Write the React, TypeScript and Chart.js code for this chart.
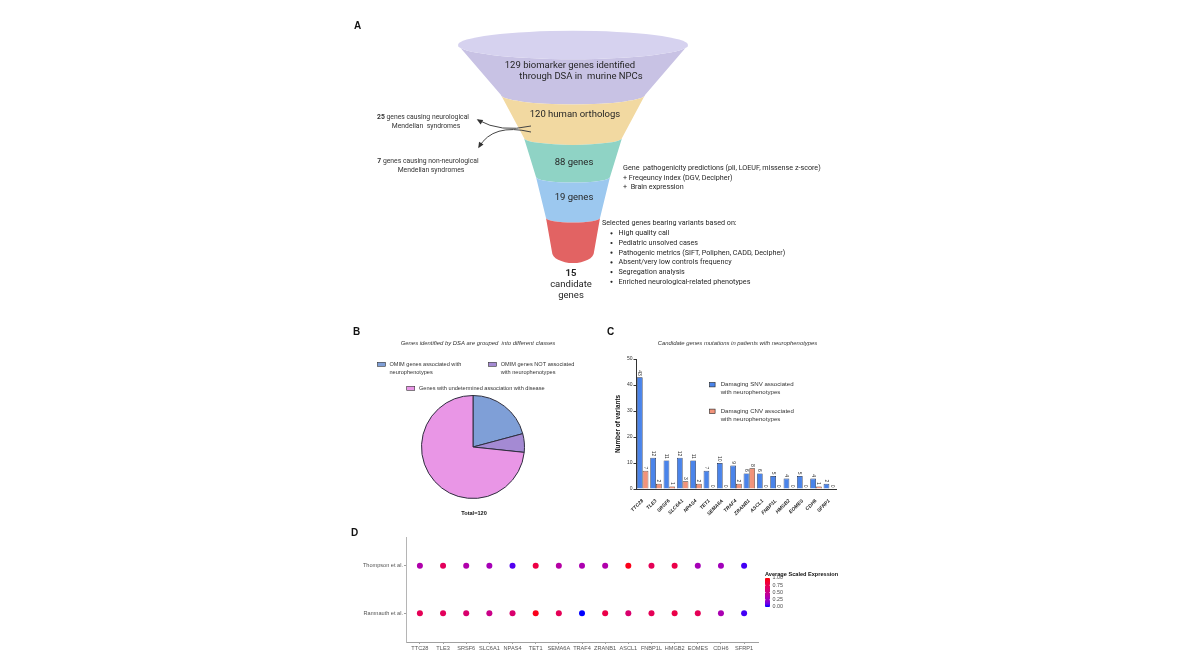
import React, { useEffect, useRef } from "react";
import { Chart, registerables } from "chart.js";
Chart.register(...registerables);

const SANS = '"Liberation Sans", Arial, sans-serif';
const ROBOTO = 'Roboto, "Noto Sans", sans-serif';

// ---------- Panel A : funnel ----------
const funnelLabels = [
  ["129 biomarker genes identified", "through DSA in  murine NPCs"],
  ["120 human orthologs"],
  ["88 genes"],
  ["19 genes"],
  ["15", "candidate", "genes"],
];
const funnelCounts = [129, 120, 88, 19, 15];
const funnelColors = ["#c8c2e4", "#f2d9a1", "#8fd3c5", "#9cc8ef", "#e26363"];
const funnelTopColor = "#d6d2ef";
// funnel outline: half widths and depths of the band boundaries (shape of the diagram)
const funnelWidthProfile = [115, 72, 49, 37, 27, 21];
const funnelDepthProfile = [35, 85, 128, 167, 208, 242];
const excludedCounts = [25, 7];
const excludedLabels = [
  [" genes causing neurological", "Mendelian  syndromes"],
  [" genes causing non-neurological", "Mendelian syndromes"],
];
const filterStep1 = [
  "Gene  pathogenicity predictions (pli, LOEUF, missense z-score)",
  "+ Freqeuncy index (DGV, Decipher)",
  "+  Brain expression",
];
const filterStep2Title = "Selected genes bearing variants based on:";
const filterStep2Items = [
  "High quality call",
  "Pediatric unsolved cases",
  "Pathogenic metrics (SIFT, Poliphen, CADD, Decipher)",
  "Absent/very low controls frequency",
  "Segregation analysis",
  "Enriched neurological-related phenotypes",
];

// ---------- Panel B : pie ----------
const pieLabels = [
  "OMIM genes associated with neurophenotypes",
  "OMIM genes NOT associated with neurophenotypes",
  "Genes with undetermined association with disease",
];
const pieLegendLines = [
  ["OMIM genes associated with", "neurophenotypes"],
  ["OMIM genes NOT associated", "with neurophenotypes"],
  ["Genes with undetermined association with disease"],
];
const pieValues = [25, 7, 88];
const pieColors = ["#7f9fd7", "#a48ad3", "#e996e6"];
const pieTitle = "Genes identified by DSA are grouped  into different classes";

// ---------- Panel C : bars ----------
const genes = ["TTC28", "TLE3", "SRSF6", "SLC6A1", "NPAS4", "TET1", "SEMA6A", "TRAF4", "ZRANB1", "ASCL1", "FNBP1L", "HMGB2", "EOMES", "CDH6", "SFRP1"];
const snvCounts = [43, 12, 11, 12, 11, 7, 10, 9, 6, 6, 5, 4, 5, 4, 2];
const cnvCounts = [7, 2, 1, 3, 2, 0, 0, 2, 8, 0, 0, 0, 0, 1, 0];
const barSeriesLabels = [
  ["Damaging SNV associated", "with neurophenotypes"],
  ["Damaging CNV associated", "with neurophenotypes"],
];
const barColors = ["#4a84ea", "#f2937a"];
const barTitle = "Candidate genes mutations in patients with neurophenotypes";
const yTicksC = [0, 10, 20, 30, 40, 50];

// ---------- Panel D : dot plot ----------
const studies = ["Ramnauth et al.", "Thompson et al."];
const ramnauthExpr = [0.72, 0.7, 0.62, 0.5, 0.62, 0.95, 0.72, 0.0, 0.78, 0.62, 0.72, 0.78, 0.72, 0.32, 0.04];
const thompsonExpr = [0.35, 0.7, 0.35, 0.3, 0.06, 0.8, 0.38, 0.33, 0.35, 0.95, 0.72, 0.78, 0.3, 0.28, 0.04];
const exprTicks = [1.0, 0.75, 0.5, 0.25, 0.0];

// ---------- colour helpers (Lab interpolation, blue -> red) ----------
function toLin(c: number) { c /= 255; return c <= 0.04045 ? c / 12.92 : Math.pow((c + 0.055) / 1.055, 2.4); }
function fromLin(c: number) { const v = c <= 0.0031308 ? 12.92 * c : 1.055 * Math.pow(c, 1 / 2.4) - 0.055; return Math.round(Math.max(0, Math.min(1, v)) * 255); }
const WX = 0.95047, WY = 1, WZ = 1.08883;
function fLab(t: number) { return t > 0.008856 ? Math.cbrt(t) : 7.787 * t + 16 / 116; }
function fInv(t: number) { return t > 0.206893 ? t * t * t : (t - 16 / 116) / 7.787; }
function rgbToLab(r: number, g: number, b: number) {
  const R = toLin(r), G = toLin(g), B = toLin(b);
  const x = (0.4124 * R + 0.3576 * G + 0.1805 * B) / WX;
  const y = (0.2126 * R + 0.7152 * G + 0.0722 * B) / WY;
  const z = (0.0193 * R + 0.1192 * G + 0.9505 * B) / WZ;
  const fx = fLab(x), fy = fLab(y), fz = fLab(z);
  return [116 * fy - 16, 500 * (fx - fy), 200 * (fy - fz)];
}
function labToRgb(L: number, a: number, bb: number) {
  const fy = (L + 16) / 116, fx = fy + a / 500, fz = fy - bb / 200;
  const x = fInv(fx) * WX, y = fInv(fy) * WY, z = fInv(fz) * WZ;
  const R = 3.2406 * x - 1.5372 * y - 0.4986 * z;
  const G = -0.9689 * x + 1.8758 * y + 0.0415 * z;
  const B = 0.0557 * x - 0.204 * y + 1.057 * z;
  return `rgb(${fromLin(R)},${fromLin(G)},${fromLin(B)})`;
}
const LOW = rgbToLab(0, 0, 255), HIGH = rgbToLab(255, 0, 0);
function exprColor(v: number) {
  return labToRgb(LOW[0] + (HIGH[0] - LOW[0]) * v, LOW[1] + (HIGH[1] - LOW[1]) * v, LOW[2] + (HIGH[2] - LOW[2]) * v);
}

function drawRuns(ctx: CanvasRenderingContext2D, runs: [string, string][], x: number, y: number, align: string) {
  let total = 0;
  runs.forEach(([t, f]) => { ctx.font = f; total += ctx.measureText(t).width; });
  let s = align === "center" ? x - total / 2 : x;
  ctx.textAlign = "left";
  runs.forEach(([t, f]) => { ctx.font = f; ctx.fillText(t, s, y); s += ctx.measureText(t).width; });
}

// ---------- Panel A plugin ----------
const funnelPlugin = {
  id: "funnelPlugin",
  afterDatasetsDraw(chart: any) {
    const { ctx } = chart;
    const X = (v: number) => chart.scales.x.getPixelForValue(v);
    const Y = (v: number) => chart.scales.y.getPixelForValue(v);
    const cx = X(0);
    const rx = (hw: number) => X(hw) - cx;
    const ryOf = (hw: number) => Math.abs(Y(hw * 0.11 + 1.5) - Y(0));
    ctx.save();
    const n = funnelColors.length;
    for (let i = 0; i < n; i++) {
      const w0 = funnelWidthProfile[i], w1 = funnelWidthProfile[i + 1];
      const d0 = funnelDepthProfile[i], d1 = funnelDepthProfile[i + 1];
      const last = i === n - 1;
      ctx.beginPath();
      ctx.ellipse(cx, Y(d0), rx(w0), ryOf(w0), 0, Math.PI, 0, true);
      ctx.lineTo(X(w1), Y(d1));
      ctx.ellipse(cx, Y(d1), rx(w1), last ? Math.abs(Y(d1 + 11) - Y(d1)) : ryOf(w1), 0, 0, Math.PI, false);
      ctx.closePath();
      ctx.fillStyle = funnelColors[i];
      ctx.fill();
      if (i === 0) {
        ctx.beginPath();
        ctx.ellipse(cx, Y(d0), rx(w0), ryOf(w0), 0, 0, Math.PI * 2);
        ctx.fillStyle = funnelTopColor;
        ctx.fill();
      }
    }
    // band labels
    ctx.fillStyle = "#262626";
    ctx.textBaseline = "middle";
    ctx.textAlign = "center";
    const f = `9.5px ${ROBOTO}`;
    const fb = `bold 9.5px ${ROBOTO}`;
    ctx.font = f;
    ctx.fillText(funnelLabels[0][0], X(-3), Y(55.5));
    ctx.fillText(funnelLabels[0][1], X(8), Y(67));
    ctx.fillText(funnelLabels[1][0], X(2), Y(105));
    ctx.fillText(funnelLabels[2][0], X(1), Y(153));
    ctx.fillText(funnelLabels[3][0], X(1), Y(188));
    ctx.font = fb;
    ctx.fillText(funnelLabels[4][0], X(-2), Y(263.5));
    ctx.font = f;
    ctx.fillText(funnelLabels[4][1], X(-2), Y(275));
    ctx.fillText(funnelLabels[4][2], X(-2), Y(286));

    // panel letter
    ctx.font = `bold 10px ${SANS}`;
    ctx.fillStyle = "#111";
    ctx.textAlign = "left";
    ctx.fillText("A", X(-219), Y(16));

    // excluded annotations
    ctx.fillStyle = "#333";
    const fs = `6.8px ${ROBOTO}`;
    const fsb = `bold 6.8px ${ROBOTO}`;
    drawRuns(ctx, [[String(excludedCounts[0]), fsb], [excludedLabels[0][0], fs]], X(-150), Y(107), "center");
    drawRuns(ctx, [[excludedLabels[0][1], fs]], X(-147), Y(116), "center");
    drawRuns(ctx, [[String(excludedCounts[1]), fsb], [excludedLabels[1][0], fs]], X(-145), Y(151), "center");
    drawRuns(ctx, [[excludedLabels[1][1], fs]], X(-142), Y(160), "center");

    // arrows
    const arrow = (sx: number, sy: number, qx: number, qy: number, ex: number, ey: number) => {
      ctx.beginPath();
      ctx.moveTo(X(sx), Y(sy));
      ctx.quadraticCurveTo(X(qx), Y(qy), X(ex), Y(ey));
      ctx.strokeStyle = "#444";
      ctx.lineWidth = 1;
      ctx.stroke();
      const ang = Math.atan2(Y(ey) - Y(qy), X(ex) - X(qx));
      const L = 4.5, W = 2.6;
      ctx.beginPath();
      ctx.moveTo(X(ex) + Math.cos(ang) * 1.5, Y(ey) + Math.sin(ang) * 1.5);
      ctx.lineTo(X(ex) - Math.cos(ang) * L - Math.sin(ang) * W, Y(ey) - Math.sin(ang) * L + Math.cos(ang) * W);
      ctx.lineTo(X(ex) - Math.cos(ang) * L + Math.sin(ang) * W, Y(ey) - Math.sin(ang) * L - Math.cos(ang) * W);
      ctx.closePath();
      ctx.fillStyle = "#333";
      ctx.fill();
    };
    arrow(-42, 116, -72, 123, -95, 110);
    arrow(-42, 122, -80, 113, -94, 137);

    // filtering criteria
    ctx.fillStyle = "#262626";
    ctx.textAlign = "left";
    ctx.font = `7.2px ${ROBOTO}`;
    filterStep1.forEach((t, i) => ctx.fillText(t, X(50), Y(158 + i * 9.8)));
    ctx.fillText(filterStep2Title, X(29), Y(213.3));
    filterStep2Items.forEach((t, i) => {
      const yy = Y(223.3 + i * 9.7);
      ctx.beginPath();
      ctx.arc(X(38.5), yy, 1.1, 0, Math.PI * 2);
      ctx.fill();
      ctx.fillText(t, X(45.5), yy);
    });
    ctx.restore();
  },
};

function funnelConfig(): any {
  return {
    type: "scatter",
    data: { datasets: [{ data: funnelCounts.map((c, i) => ({ x: 0, y: funnelDepthProfile[i] })), pointRadius: 0 }] },
    options: {
      responsive: false,
      animation: false,
      layout: { padding: 0 },
      plugins: { legend: { display: false }, tooltip: { enabled: false } },
      scales: {
        x: { type: "linear", min: -233, max: 287, display: false },
        y: { type: "linear", min: 0, max: 300, reverse: true, display: false },
      },
    },
    plugins: [funnelPlugin],
  };
}

// ---------- Panel B ----------
const pieDecor = {
  id: "pieDecor",
  afterDraw(chart: any) {
    const { ctx } = chart;
    ctx.save();
    ctx.textBaseline = "middle";
    ctx.fillStyle = "#111";
    ctx.font = `bold 10px ${SANS}`;
    ctx.textAlign = "left";
    ctx.fillText("B", 13, 12);
    ctx.fillStyle = "#333";
    ctx.font = `italic 5.9px ${SANS}`;
    ctx.textAlign = "center";
    ctx.fillText(pieTitle, 138, 23);
    const items = [
      { bx: 37.5, tx: 49.5, y: 44.3 },
      { bx: 148.5, tx: 160.7, y: 44.3 },
      { bx: 66.7, tx: 79, y: 68.3 },
    ];
    ctx.font = `5.6px ${SANS}`;
    ctx.textAlign = "left";
    items.forEach((it, i) => {
      ctx.fillStyle = pieColors[i];
      ctx.fillRect(it.bx, it.y - 2, 8, 4);
      ctx.strokeStyle = "#333";
      ctx.lineWidth = 0.6;
      ctx.strokeRect(it.bx, it.y - 2, 8, 4);
      ctx.fillStyle = "#333";
      pieLegendLines[i].forEach((l, j) => ctx.fillText(l, it.tx, it.y + j * 8));
    });
    ctx.font = `bold 5.6px ${SANS}`;
    ctx.textAlign = "center";
    ctx.fillStyle = "#111";
    const total = pieValues.reduce((a, b) => a + b, 0);
    ctx.fillText(`Total=${total}`, 134, 193);
    ctx.restore();
  },
};

function pieConfig(): any {
  return {
    type: "pie",
    data: {
      labels: pieLabels,
      datasets: [{ data: pieValues, backgroundColor: pieColors, borderColor: "#2e2e3e", borderWidth: 1 }],
    },
    options: {
      responsive: false,
      animation: false,
      layout: { padding: { left: 81, right: 75, top: 74, bottom: 20 } },
      plugins: { legend: { display: false }, tooltip: { enabled: false } },
    },
    plugins: [pieDecor],
  };
}

// ---------- Panel C ----------
const barDecor = {
  id: "barDecor",
  afterDatasetsDraw(chart: any) {
    const { ctx } = chart;
    ctx.save();
    ctx.fillStyle = "#333";
    ctx.font = `5px ${SANS}`;
    chart.data.datasets.forEach((ds: any, di: number) => {
      const meta = chart.getDatasetMeta(di);
      meta.data.forEach((bar: any, i: number) => {
        ctx.save();
        ctx.translate(bar.x, bar.y - 1.5);
        ctx.rotate(Math.PI / 2);
        ctx.textAlign = "right";
        ctx.textBaseline = "middle";
        ctx.fillText(String(ds.data[i]), 0, 0);
        ctx.restore();
      });
    });
    ctx.restore();
  },
  afterDraw(chart: any) {
    const { ctx } = chart;
    ctx.save();
    ctx.textBaseline = "middle";
    ctx.fillStyle = "#111";
    ctx.font = `bold 10px ${SANS}`;
    ctx.textAlign = "left";
    ctx.fillText("C", 7, 12);
    ctx.fillStyle = "#333";
    ctx.font = `italic 5.9px ${SANS}`;
    ctx.textAlign = "center";
    ctx.fillText(barTitle, 137.5, 23);
    const ys = [64.7, 91.3];
    ctx.font = `6.1px ${SANS}`;
    ctx.textAlign = "left";
    ys.forEach((y, i) => {
      ctx.fillStyle = barColors[i];
      ctx.fillRect(109.5, y - 2.2, 5.6, 4.4);
      ctx.strokeStyle = "#222";
      ctx.lineWidth = 0.6;
      ctx.strokeRect(109.5, y - 2.2, 5.6, 4.4);
      ctx.fillStyle = "#333";
      barSeriesLabels[i].forEach((l, j) => ctx.fillText(l, 120.7, y + j * 7.6));
    });
    ctx.restore();
  },
};

function barConfig(): any {
  return {
    type: "bar",
    data: {
      labels: genes,
      datasets: [
        { label: barSeriesLabels[0].join(" "), data: snvCounts, backgroundColor: barColors[0], borderColor: "#1f2a44", borderWidth: 0.7, categoryPercentage: 0.86, barPercentage: 1 },
        { label: barSeriesLabels[1].join(" "), data: cnvCounts, backgroundColor: barColors[1], borderColor: "#3a2a22", borderWidth: 0.7, categoryPercentage: 0.86, barPercentage: 1 },
      ],
    },
    options: {
      responsive: false,
      animation: false,
      layout: { padding: { left: 14, right: 24, top: 39, bottom: 0 } },
      plugins: { legend: { display: false }, tooltip: { enabled: false } },
      scales: {
        x: {
          grid: { display: false },
          border: { display: true, color: "#333", width: 1 },
          ticks: { autoSkip: false, maxRotation: 45, minRotation: 45, padding: 1, color: "#222", font: { size: 5, weight: "bold", style: "italic", family: SANS } },
          afterFit: (s: any) => { s.height = 31; },
        },
        y: {
          min: yTicksC[0],
          max: yTicksC[yTicksC.length - 1],
          afterBuildTicks: (s: any) => { s.ticks = yTicksC.map((v) => ({ value: v })); },
          grid: { display: true, drawOnChartArea: false, tickLength: 2.5, color: "#333" },
          border: { display: true, color: "#333", width: 1 },
          ticks: { padding: 1, color: "#333", font: { size: 5, family: SANS } },
          title: { display: true, text: "Number of variants", color: "#111", padding: 0, font: { size: 6.4, weight: "bold", family: SANS } },
          afterFit: (s: any) => { s.width = 22; },
        },
      },
    },
    plugins: [barDecor],
  };
}

// ---------- Panel D ----------
const dotDecor = {
  id: "dotDecor",
  afterDraw(chart: any) {
    const { ctx } = chart;
    ctx.save();
    ctx.textBaseline = "middle";
    ctx.fillStyle = "#111";
    ctx.font = `bold 10px ${SANS}`;
    ctx.textAlign = "left";
    ctx.fillText("D", 11, 13);
    // colour legend
    const lx = 425, top = 58, bottom = 87;
    ctx.font = `bold 5.6px ${SANS}`;
    ctx.fillStyle = "#111";
    ctx.fillText("Average Scaled Expression", lx, 54);
    const grad = ctx.createLinearGradient(0, bottom, 0, top);
    for (let k = 0; k <= 10; k++) grad.addColorStop(k / 10, exprColor(k / 10));
    ctx.fillStyle = grad;
    ctx.fillRect(lx, top, 5, bottom - top);
    ctx.font = `5.4px ${SANS}`;
    ctx.fillStyle = "#4d4d4d";
    exprTicks.forEach((t) => {
      const y = bottom - (bottom - top) * t;
      ctx.fillText(t.toFixed(2), lx + 7.5, y);
      ctx.strokeStyle = "#fff";
      ctx.lineWidth = 0.5;
      ctx.beginPath(); ctx.moveTo(lx, y); ctx.lineTo(lx + 1, y); ctx.moveTo(lx + 4, y); ctx.lineTo(lx + 5, y); ctx.stroke();
    });
    ctx.restore();
  },
};

function dotConfig(): any {
  const rows = [ramnauthExpr, thompsonExpr];
  return {
    type: "scatter",
    data: {
      datasets: rows.map((vals, r) => ({
        label: studies[r],
        data: genes.map((g, i) => ({ x: i, y: r + 1 })),
        pointBackgroundColor: vals.map(exprColor),
        pointBorderWidth: 0,
        pointRadius: 3,
      })),
    },
    options: {
      responsive: false,
      animation: false,
      layout: { padding: { left: 0, right: 102, top: 17, bottom: 0 } },
      plugins: { legend: { display: false }, tooltip: { enabled: false } },
      scales: {
        x: {
          type: "linear",
          min: -0.6,
          max: genes.length - 1 + 0.6,
          afterBuildTicks: (s: any) => { s.ticks = genes.map((_, i) => ({ value: i })); },
          grid: { display: true, drawOnChartArea: false, tickLength: 2, color: "#a0a0a0" },
          border: { display: true, color: "#a0a0a0", width: 1 },
          ticks: { autoSkip: false, maxRotation: 0, padding: 1, color: "#555", font: { size: 5.6, family: SANS }, callback: (v: number) => genes[v] ?? "" },
          afterFit: (s: any) => { s.height = 23; },
        },
        y: {
          type: "linear",
          min: 0.4,
          max: studies.length + 0.6,
          afterBuildTicks: (s: any) => { s.ticks = studies.map((_, i) => ({ value: i + 1 })); },
          grid: { display: true, drawOnChartArea: false, tickLength: 2, color: "#a0a0a0" },
          border: { display: true, color: "#b5b5b5", width: 1 },
          ticks: { autoSkip: false, padding: 1, color: "#555", font: { size: 5.6, family: SANS }, callback: (v: number) => studies[v - 1] ?? "" },
          afterFit: (s: any) => { s.width = 66; },
        },
      },
    },
    plugins: [dotDecor],
  };
}

export default function App() {
  const aRef = useRef<HTMLCanvasElement>(null);
  const bRef = useRef<HTMLCanvasElement>(null);
  const cRef = useRef<HTMLCanvasElement>(null);
  const dRef = useRef<HTMLCanvasElement>(null);
  useEffect(() => {
    Chart.defaults.font.family = SANS;
    Chart.defaults.color = "#333";
    const charts = [
      new Chart(aRef.current as HTMLCanvasElement, funnelConfig()),
      new Chart(bRef.current as HTMLCanvasElement, pieConfig()),
      new Chart(cRef.current as HTMLCanvasElement, barConfig()),
      new Chart(dRef.current as HTMLCanvasElement, dotConfig()),
    ];
    return () => charts.forEach((c) => c.destroy());
  }, []);
  const abs = (l: number, t: number, w: number, h: number): React.CSSProperties => ({ position: "absolute", left: l, top: t, width: w, height: h });
  return (
    <div style={{ position: "absolute", left: 0, top: 0, width: 1200, height: 670, background: "#fff", overflow: "hidden" }}>
      <canvas ref={aRef} width={520} height={300} style={abs(340, 10, 520, 300)} />
      <canvas ref={bRef} width={260} height={200} style={abs(340, 320, 260, 200)} />
      <canvas ref={cRef} width={260} height={200} style={abs(600, 320, 260, 200)} />
      <canvas ref={dRef} width={520} height={145} style={abs(340, 520, 520, 145)} />
    </div>
  );
}
